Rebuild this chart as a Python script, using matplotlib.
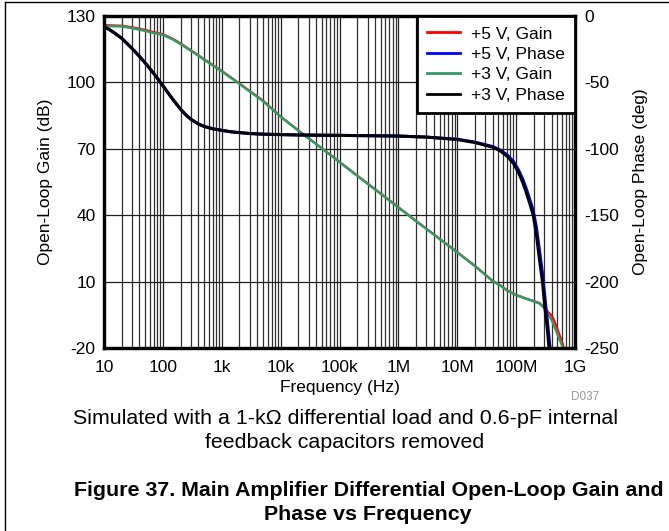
import matplotlib
matplotlib.use('Agg')
import matplotlib.pyplot as plt
from matplotlib.lines import Line2D
from matplotlib.ticker import FixedLocator, FixedFormatter, LogLocator, NullFormatter

plt.rcParams['font.family'] = ['Liberation Sans', 'DejaVu Sans']
plt.rcParams['font.size'] = 12.5
plt.rcParams['axes.unicode_minus'] = False

# %% data
gain_freq = [10, 20, 30, 50, 70, 100, 150, 200, 300, 500, 700, 1e3, 2e3, 5e3,
             1e4, 2e4, 5e4, 1e5, 2e5, 5e5, 1e6, 2e6, 5e6, 1e7, 2e7, 4e7,
             5.3e7, 7e7, 1e8, 1.5e8, 2e8, 2.5e8, 3e8, 3.5e8, 4e8, 4.5e8,
             5e8, 5.5e8, 6e8, 6.5e8, 7e8]
gain_5v = [125.9, 125.6, 124.9, 123.7, 122.7, 121.8, 119.6, 117.6, 114.5, 110.5,
           107.9, 105.2, 99.5, 91.8, 84.6, 78.3, 70.3, 64.1, 57.9, 49.8,
           43.6, 37.4, 29.4, 23.3, 17.1, 10.3, 8.5, 6.1, 4.0, 2.3,
           1.2, 0.3, -1.6, -3.8, -5.2, -8.0, -11.3, -14.3, -17.1, -19.9, -22.5]
gain_3v = [125.5, 125.3, 124.5, 123.3, 122.3, 121.5, 119.3, 117.3, 114.3, 110.3,
           107.7, 105.0, 99.3, 91.6, 84.5, 78.2, 70.2, 64.0, 57.8, 49.7,
           43.5, 37.3, 29.3, 23.2, 17.0, 10.2, 8.4, 6.0, 3.9, 2.2,
           1.1, 0.1, -1.9, -4.8, -7.2, -10.5, -13.5, -16.3, -18.8, -21.1, -23.5]

phase_freq = [10, 12, 15, 20, 25, 30, 40, 50, 60, 70, 80, 90, 100, 125, 150,
              200, 250, 300, 400, 500, 700, 1e3, 1.5e3, 3e3, 5e3, 1e4, 2e4,
              1e5, 1e6, 3e6, 1e7, 2e7, 4e7, 5.3e7, 7e7, 9e7, 1.1e8, 1.3e8,
              1.5e8, 1.7e8, 1.95e8, 2.2e8, 2.5e8, 2.8e8, 3.1e8, 3.4e8, 3.6e8, 4e8]
phase_5v = [-8, -9.9, -12.7, -16.8, -21.0, -24.5, -30.4, -35.3, -39.6, -43.3,
            -46.7, -49.7, -52.5, -58.4, -63.2, -70.2, -74.8, -77.8, -81.3,
            -83.1, -84.9, -86.1, -87.3, -88.5, -89.0, -89.3, -89.6, -89.9,
            -90.4, -91.2, -92.8, -95.0, -98.3, -100.8, -104.5, -109.5, -116,
            -123, -130.5, -138, -146.5, -158.5, -177, -193.5, -213, -230,
            -241, -262]
phase_3v = [-8, -9.9, -12.7, -16.8, -21.0, -24.5, -30.4, -35.3, -39.6, -43.3,
            -46.7, -49.7, -52.5, -58.4, -63.2, -70.2, -74.8, -77.8, -81.3,
            -83.1, -84.9, -86.1, -87.3, -88.5, -89.0, -89.3, -89.6, -89.9,
            -90.4, -91.2, -93.0, -95.3, -98.8, -101.4, -105.5, -111, -118,
            -125.5, -133.5, -141, -150, -164, -184, -200, -221, -236, -249,
            -270]

x_ticks = [1e1, 1e2, 1e3, 1e4, 1e5, 1e6, 1e7, 1e8, 1e9]
x_labels = ['10', '100', '1k', '10k', '100k', '1M', '10M', '100M', '1G']
gain_ticks = [-20, 10, 40, 70, 100, 130]
phase_ticks = [-250, -200, -150, -100, -50, 0]

# %% figure
W, H = 669, 531
fig = plt.figure(figsize=(W / 100, H / 100), dpi=100)
ax = fig.add_axes([104 / W, 1 - 348 / H, 471 / W, 332 / H])
ax.set_xscale('log')
ax.set_xlim(10, 1e9)
ax.set_ylim(-20, 130)
ax.xaxis.set_major_locator(FixedLocator(x_ticks))
ax.xaxis.set_major_formatter(FixedFormatter(x_labels))
ax.xaxis.set_minor_locator(LogLocator(base=10, subs=range(2, 10), numticks=20))
ax.xaxis.set_minor_formatter(NullFormatter())
ax.set_yticks(gain_ticks)
ax.grid(which='major', color='#202020', lw=0.9)
ax.grid(which='minor', axis='x', color='#303030', lw=0.9)
ax.set_axisbelow(True)
ax.tick_params(which='both', length=0)
ax.tick_params(axis='y', pad=6)
ax.tick_params(axis='x', pad=9)
for s in ax.spines.values():
    s.set_linewidth(2.3)

l1, = ax.plot(gain_freq, gain_5v, color='#ff0000', lw=1.6, label='+5 V, Gain')
l3, = ax.plot(gain_freq, gain_3v, color='#339966', lw=1.8, label='+3 V, Gain')
ax.set_ylabel('Open-Loop Gain (dB)', labelpad=10)
ax.set_xlabel('Frequency (Hz)', labelpad=3)

ax2 = ax.twinx()
ax2.set_ylim(-250, 0)
ax2.set_yticks(phase_ticks)
ax2.tick_params(length=0, pad=7)
for s in ax2.spines.values():
    s.set_linewidth(2.3)
l2, = ax2.plot(phase_freq, phase_5v, color='#0000ff', lw=2.2, label='+5 V, Phase')
l4, = ax2.plot(phase_freq, phase_3v, color='black', lw=2.2, label='+3 V, Phase')
ax2.set_ylabel('Open-Loop Phase (deg)', labelpad=10)

leg = ax2.legend(handles=[l1, l2, l3, l4], loc='upper right', borderaxespad=0,
                 fancybox=False, framealpha=1, edgecolor='black',
                 handlelength=1.9, handletextpad=0.6, labelspacing=0.3,
                 borderpad=0.6)
leg.get_frame().set_linewidth(2)
for h in leg.get_lines():
    h.set_linewidth(2)

fig.text(585 / W, 1 - 397 / H, 'D037', color='#999999', fontsize=8.5,
         ha='center', va='center')
fig.text(345 / W, 1 - 419 / H, 'Simulated with a 1-k\u03a9 differential load and 0.6-pF internal',
         fontsize=15.4, ha='center', va='center')
fig.text(345 / W, 1 - 443 / H, 'feedback capacitors removed',
         fontsize=15.4, ha='center', va='center')
fig.text(369 / W, 1 - 490 / H, 'Figure 37. Main Amplifier Differential Open-Loop Gain and',
         fontsize=15.4, fontweight='bold', ha='center', va='center')
fig.text(368 / W, 1 - 514 / H, 'Phase vs Frequency',
         fontsize=15.4, fontweight='bold', ha='center', va='center')

# page frame (left and top edge only)
fig.add_artist(Line2D([5 / W, 5 / W], [0, 1 - 2 / H], transform=fig.transFigure,
                      color='black', lw=1))
fig.add_artist(Line2D([5 / W, 1], [1 - 2 / H, 1 - 2 / H], transform=fig.transFigure,
                      color='black', lw=1))

fig.savefig('out.png', dpi=100)
